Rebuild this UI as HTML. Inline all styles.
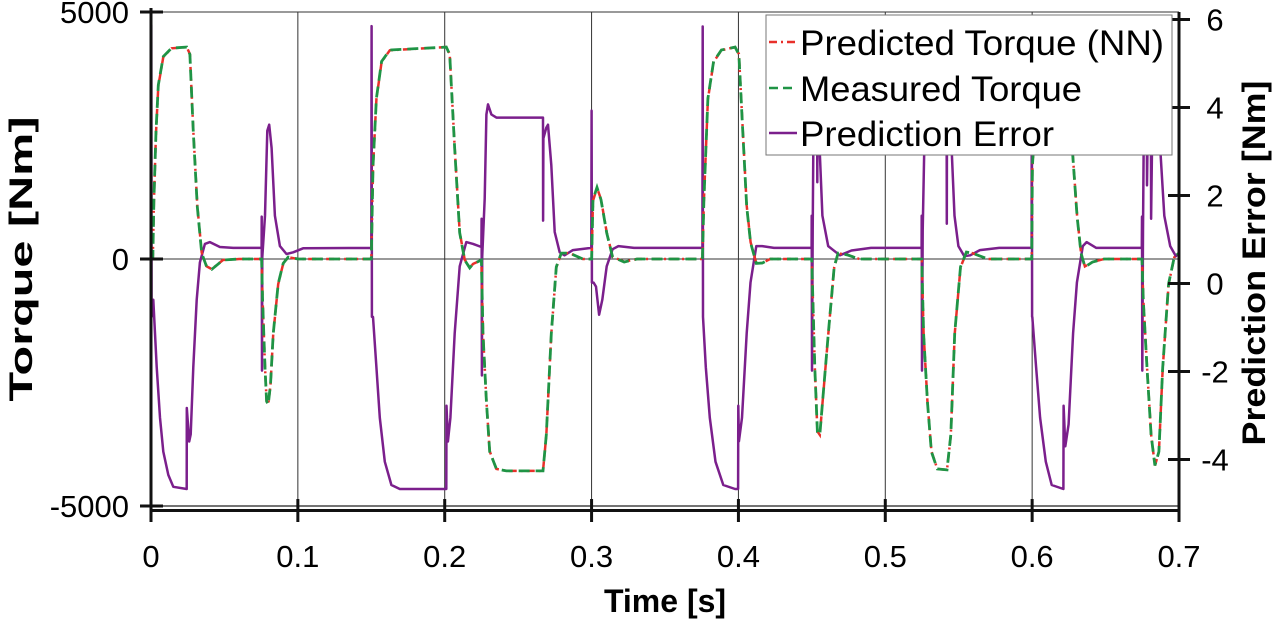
<!DOCTYPE html>
<html><head><meta charset="utf-8"><style>
html,body{margin:0;padding:0;background:#fff;}
svg{display:block;font-family:"Liberation Sans",Arial,sans-serif;}
</style></head><body>
<svg id="chart" width="1280" height="621" viewBox="0 0 1280 621">
<g id="grid"></g>
<g id="series"></g>
<g id="axes"></g>
<text x="665" y="612" text-anchor="middle" font-size="32" font-weight="bold">Time [s]</text>
<text transform="translate(32,259) rotate(-90)" text-anchor="middle" font-size="32" font-weight="bold" textLength="285" lengthAdjust="spacingAndGlyphs">Torque [Nm]</text>
<text transform="translate(1265,263) rotate(-90)" text-anchor="middle" font-size="32" font-weight="bold" textLength="365" lengthAdjust="spacingAndGlyphs">Prediction Error [Nm]</text>
<g>
<rect x="766" y="15" width="406" height="140" fill="#fff" stroke="#777" stroke-width="1"/>
<line x1="769" y1="42" x2="797" y2="42" stroke="#e8302a" stroke-width="2.5" stroke-dasharray="8,4,2,4"/>
<text x="800" y="55" font-size="35" textLength="364" lengthAdjust="spacingAndGlyphs">Predicted Torque (NN)</text>
<line x1="769" y1="88" x2="797" y2="88" stroke="#1f9445" stroke-width="2.5" stroke-dasharray="9,5"/>
<text x="800" y="101" font-size="35" textLength="282" lengthAdjust="spacingAndGlyphs">Measured Torque</text>
<line x1="769" y1="133" x2="797" y2="133" stroke="#7b1f8c" stroke-width="2.5"/>
<text x="800" y="146" font-size="35" textLength="254" lengthAdjust="spacingAndGlyphs">Prediction Error</text>
</g>
</svg>
<script>
// ---- data ----
const xTicks = [0,0.1,0.2,0.3,0.4,0.5,0.6,0.7];
const xTickLabels = ["0","0.1","0.2","0.3","0.4","0.5","0.6","0.7"];
const leftTicks = [-5000,0,5000];
const leftTickLabels = ["-5000","0","5000"];
const rightTicks = [-4,-2,0,2,4,6];
const rightTickLabels = ["-4","-2","0","2","4","6"];

const torqueTime = [0,0.0012,0.002,0.0034,0.005,0.0084,0.014,0.0243,0.0265,0.0288,0.0315,0.0345,0.0379,0.0413,0.049,0.06,0.0753,0.076,0.0776,0.0787,0.0798,0.0814,0.0832,0.0866,0.09,0.0934,0.1,0.150,0.1512,0.1535,0.157,0.1626,0.2011,0.2034,0.2068,0.2102,0.2136,0.217,0.2193,0.225,0.2261,0.2284,0.2306,0.2352,0.242,0.2669,0.2692,0.2726,0.276,0.2794,0.285,0.294,0.3,0.301,0.3037,0.3064,0.3103,0.3143,0.3222,0.331,0.3755,0.3765,0.3792,0.3831,0.3884,0.3977,0.4003,0.403,0.4056,0.4083,0.4122,0.4163,0.4216,0.4499,0.4507,0.452,0.4538,0.4554,0.4573,0.4612,0.4652,0.4679,0.4745,0.4823,0.5248,0.5261,0.5287,0.5314,0.5354,0.542,0.5446,0.5473,0.5512,0.5552,0.5592,0.5698,0.5997,0.6002,0.6029,0.6068,0.6148,0.624,0.6275,0.6306,0.6333,0.6359,0.6412,0.649,0.6748,0.6757,0.6782,0.681,0.6836,0.6863,0.6889,0.6929,0.6968,0.7];
const measuredTorque = [0,0,1200,2580,3520,4100,4270,4290,4140,2570,1060,120,-160,-210,-20,0,0,-840,-2200,-2880,-2950,-2540,-1520,-500,-90,40,0,0,1880,3250,4000,4230,4290,4140,2230,530,-20,-180,-100,-20,-1520,-2880,-3900,-4250,-4290,-4290,-3560,-1510,-160,120,120,0,0,1200,1450,1200,530,40,-60,0,0,1200,3250,4000,4230,4290,4140,2570,1060,330,-90,-80,0,0,-840,-2200,-3500,-3560,-2880,-1510,-160,120,80,0,0,-1510,-2880,-3900,-4250,-4270,-3560,-1510,-160,140,120,0,0,1880,3250,4000,4230,4290,2170,860,120,-160,-60,0,0,-840,-2200,-3560,-4180,-3900,-2200,-500,40,120];
const predictedTorque = [0,0,1150,2550,3500,4090,4265,4290,4150,2600,1080,130,-150,-205,-20,0,0,-820,-2180,-2870,-2950,-2550,-1530,-510,-95,35,0,0,1850,3230,3990,4225,4290,4150,2250,540,-15,-175,-100,-20,-1500,-2870,-3890,-4250,-4290,-4290,-3570,-1520,-170,115,120,0,0,1180,1440,1210,540,45,-55,0,0,1180,3230,3990,4225,4290,4150,2600,1080,340,-85,-80,0,0,-820,-2180,-3490,-3560,-2890,-1520,-170,115,80,0,0,-1500,-2870,-3890,-4250,-4270,-3570,-1520,-170,135,120,0,0,1850,3230,3990,4225,4290,2190,870,125,-150,-60,0,0,-820,-2180,-3550,-4180,-3910,-2220,-510,35,120];

const errorTime = [0,0.0002,0.0004,0.0016,0.0039,0.0061,0.0084,0.0118,0.0152,0.0243,0.0244,0.026,0.027,0.0288,0.0311,0.0333,0.0367,0.0401,0.0469,0.056,0.0753,0.0754,0.0756,0.0758,0.0776,0.0792,0.0805,0.0821,0.0844,0.0878,0.0923,0.0968,0.1036,0.150,0.1502,0.1504,0.1512,0.1535,0.1558,0.1592,0.1637,0.1694,0.2011,0.2012,0.2022,0.2039,0.2068,0.2102,0.2147,0.2193,0.225,0.2251,0.2253,0.2255,0.2272,0.2284,0.2295,0.2318,0.2352,0.2669,0.2670,0.2672,0.2692,0.2703,0.2726,0.2749,0.2783,0.2816,0.2873,0.2998,0.3,0.3002,0.3014,0.303,0.3051,0.3073,0.3103,0.3143,0.3183,0.3289,0.3755,0.3757,0.3759,0.3778,0.3805,0.3844,0.3897,0.3977,0.3998,0.3999,0.4003,0.4024,0.4056,0.4082,0.4122,0.4162,0.4242,0.4498,0.4499,0.4501,0.4506,0.4515,0.4535,0.4537,0.454,0.4548,0.4554,0.4572,0.4611,0.4638,0.4691,0.477,0.4903,0.5247,0.5248,0.525,0.5255,0.5268,0.528,0.5417,0.5419,0.5421,0.5435,0.5453,0.5471,0.5498,0.5538,0.5578,0.5644,0.5776,0.5996,0.5998,0.6,0.6001,0.6027,0.6054,0.6093,0.6133,0.6213,0.6214,0.6226,0.6248,0.6279,0.6305,0.6345,0.6371,0.6437,0.6747,0.6748,0.675,0.6755,0.6765,0.678,0.6782,0.6795,0.6808,0.681,0.6825,0.6855,0.6874,0.69,0.694,0.6979,0.7];
const errorValue = [0.8,5.88,-0.76,-0.37,-1.9,-3.05,-3.82,-4.35,-4.62,-4.67,-2.83,-3.59,-3.43,-1.9,-0.37,0.48,0.9,0.94,0.83,0.81,0.81,1.52,-1.98,0.6,1.54,3.47,3.61,3.08,1.54,0.85,0.67,0.71,0.8,0.81,5.85,-0.76,-0.76,-1.9,-3.05,-4.05,-4.58,-4.67,-4.67,-2.78,-3.59,-3.05,-1.13,0.39,0.94,0.9,0.83,1.47,-2.09,0.6,1.93,3.84,4.07,3.84,3.77,3.77,1.43,3.3,3.54,3.61,2.69,1.17,0.71,0.64,0.76,0.81,3.93,0.02,0.02,-0.07,-0.71,-0.37,0.39,0.78,0.85,0.81,0.81,5.84,-0.76,-1.9,-3.05,-4.05,-4.58,-4.67,-4.67,-2.78,-3.59,-3.05,-1.13,0.02,0.85,0.85,0.81,0.81,1.54,-1.98,1.2,5.5,5.5,2.3,5.5,5.0,2.97,1.54,0.85,0.78,0.64,0.75,0.81,0.81,1.54,-1.98,1.2,3.47,5.6,5.5,1.36,5.4,4.5,2.97,1.54,0.85,0.62,0.64,0.76,0.81,0.81,5.8,-0.76,-0.76,-1.9,-3.05,-4.05,-4.58,-4.67,-2.78,-3.7,-3.2,-1.13,0.02,0.85,0.94,0.81,0.81,1.52,-1.98,1.2,5.5,5.5,2.23,5.5,5.5,1.47,5.4,4.5,2.97,1.54,0.85,0.62,0.7];

// ---- scales ----
const X0 = 151, X1 = 1179;
function xs(t){ return X0 + (t - 0) / 0.7 * (X1 - X0); }
function yl(v){ return 259 - v * (506 - 12) / 10000; }
function yr(v){ return 283.5 - v * 44; }

const NS = "http://www.w3.org/2000/svg";
function mk(tag, attrs, parent){
  const e = document.createElementNS(NS, tag);
  for (const k in attrs) e.setAttribute(k, attrs[k]);
  parent.appendChild(e);
  return e;
}
const grid = document.getElementById('grid');
const series = document.getElementById('series');
const axes = document.getElementById('axes');

xTicks.forEach((t, i) => {
  if (i === 0 || i === xTicks.length - 1) return;
  const g = mk('line', {x1: xs(t), x2: xs(t), y1: 12, y2: 506, stroke: '#333', 'stroke-width': 1}, grid);
  
  
});
const z = mk('line', {x1: X0, x2: X1, y1: yl(0), y2: yl(0), stroke: '#333', 'stroke-width': 1}, grid);


const tl = mk('line', {x1: X0, x2: X1, y1: 12, y2: 12, stroke: '#333', 'stroke-width': 1}, grid);


const bl = mk('line', {x1: X0, x2: X1, y1: 506, y2: 506, stroke: '#222', 'stroke-width': 1.2}, grid);



function path(ts, vs, f){
  return ts.map((t, i) => (i ? 'L' : 'M') + xs(t).toFixed(1) + ',' + f(vs[i]).toFixed(1)).join(' ');
}
const pe = mk('path', {d: path(errorTime, errorValue, yr), fill: 'none', stroke: '#7b1f8c', 'stroke-width': 2.5, 'stroke-linejoin': 'round'}, series);


const pp = mk('path', {d: path(torqueTime, predictedTorque, yl), fill: 'none', stroke: '#e8302a', 'stroke-width': 2.5, 'stroke-dasharray': '8,4,2,4'}, series);


const pm = mk('path', {d: path(torqueTime, measuredTorque, yl), fill: 'none', stroke: '#1f9445', 'stroke-width': 2.8, 'stroke-dasharray': '11,6'}, series);



const la = mk('line', {x1: X0, x2: X0, y1: 8, y2: 522, stroke: '#111', 'stroke-width': 3}, axes);


const ra = mk('line', {x1: X1, x2: X1, y1: 12, y2: 522, stroke: '#111', 'stroke-width': 3}, axes);


const xa = mk('line', {x1: X0, x2: X1, y1: 510.5, y2: 510.5, stroke: '#111', 'stroke-width': 3}, axes);



xTicks.forEach((t, i) => {
  const tk = mk('line', {x1: xs(t), x2: xs(t), y1: 499, y2: 522, stroke: '#111', 'stroke-width': 3}, axes);
  
  
  const lb = mk('text', {x: xs(t), y: 567, 'text-anchor': 'middle', 'font-size': 31}, axes);
  lb.textContent = xTickLabels[i];
  
  
});
leftTicks.forEach((v, i) => {
  const tk = mk('line', {x1: 140, x2: 163, y1: yl(v), y2: yl(v), stroke: '#111', 'stroke-width': 3}, axes);
  
  
  const lb = mk('text', {x: 129, y: yl(v) + 11, 'text-anchor': 'end', 'font-size': 31}, axes);
  lb.textContent = leftTickLabels[i];
  
  
});
rightTicks.forEach((v, i) => {
  const tk = mk('line', {x1: 1168, x2: 1190, y1: yr(v), y2: yr(v), stroke: '#111', 'stroke-width': 3}, axes);
  
  
  const lb = mk('text', {x: 1215, y: yr(v) + 11, 'text-anchor': 'middle', 'font-size': 31}, axes);
  lb.textContent = rightTickLabels[i];
  
  
});
</script>
</body></html>
